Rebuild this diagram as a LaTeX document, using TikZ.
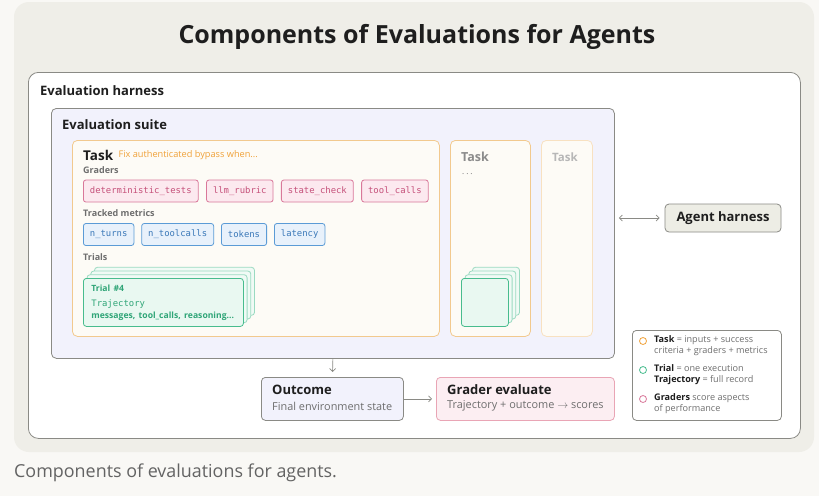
\documentclass[tikz,border=0pt]{standalone}
\usepackage{fontspec}
\setmainfont{Open Sans}
\setmonofont{DejaVu Sans Mono}
\usetikzlibrary{positioning,arrows.meta}
\definecolor{pagebg}{HTML}{F9F8F5}
\definecolor{panelbg}{HTML}{EFEEE8}
\definecolor{frame}{HTML}{8A8A85}
\definecolor{suitefill}{HTML}{F2F2FC}
\definecolor{taskfill}{HTML}{FDFBF6}
\definecolor{taskline}{HTML}{F2C98E}
\definecolor{taskorange}{HTML}{F0A23A}
\definecolor{graderfill}{HTML}{FCE9EF}
\definecolor{graderline}{HTML}{D9789A}
\definecolor{gradertext}{HTML}{C5507A}
\definecolor{metricfill}{HTML}{E8F1FB}
\definecolor{metricline}{HTML}{5B9BD6}
\definecolor{metrictext}{HTML}{3A78B8}
\definecolor{trialfill}{HTML}{E9F8F1}
\definecolor{trialline}{HTML}{48BC8E}
\definecolor{trialtext}{HTML}{2FA577}
\definecolor{agentfill}{HTML}{EDEDE5}
\definecolor{evalfill}{HTML}{FCEEF2}
\definecolor{evalline}{HTML}{E9A5B5}
\definecolor{inkgray}{HTML}{6E6E6E}
\definecolor{ink}{HTML}{1E1E1E}

\tikzset{
  container/.style={draw=frame, line width=0.8pt, anchor=north west, inner sep=0pt},
  heading/.style={anchor=west, inner sep=0pt, text=ink, font=\bfseries\fontsize{13}{15}\selectfont},
  sublabel/.style={anchor=west, inner sep=0pt, text=inkgray, font=\bfseries\fontsize{9}{10}\selectfont},
  chip/.style={draw, rounded corners=2.5pt, line width=0.8pt, minimum height=22pt,
    inner xsep=6.5pt, font=\ttfamily\fontsize{8.9}{10}\selectfont},
  grader/.style={chip, draw=graderline, fill=graderfill, text=gradertext},
  metric/.style={chip, draw=metricline, fill=metricfill, text=metrictext},
  trialcard/.style={draw=trialline, fill=trialfill, rounded corners=3pt, line width=0.8pt,
    anchor=north west, inner sep=0pt},
  trialback/.style={trialcard, draw=trialline!55, fill=trialfill!70},
  link/.style={draw=frame, line width=0.7pt, -{Straight Barb[length=3pt]}},
  legendtext/.style={anchor=north west, inner sep=0pt, align=left, text=inkgray,
    font=\fontsize{9.1}{11}\selectfont},
  dot/.style={circle, draw=#1, line width=0.8pt, minimum size=7pt, inner sep=0pt},
  note/.style={anchor=west, inner sep=0pt, text=inkgray, font=\fontsize{10.9}{12}\selectfont},
}

\begin{document}
\begin{tikzpicture}[x=1pt, y=-1pt]
\useasboundingbox[fill=pagebg] (0,0) rectangle (819,496);
\fill[panelbg, rounded corners=15pt] (14,2) rectangle (814,452);

\node[text=ink, font=\bfseries\fontsize{25}{28}\selectfont] (title) at (417,37)
  {Components of Evaluations for Agents};

% harness and suite
\node[container, fill=white, rounded corners=10pt, minimum width=772pt, minimum height=366pt]
  (harness) at (28,72) {};
\node[heading] (harnesslabel) at (40,91) {Evaluation harness};
\node[container, fill=suitefill, rounded corners=5pt, minimum width=563pt, minimum height=250pt]
  (suite) at (51,108) {};
\node[heading] (suitelabel) at (62,125) {Evaluation suite};

% first task
\node[container, draw=taskline, fill=taskfill, rounded corners=5pt, minimum width=367pt,
  minimum height=196pt] (task) at (72,140) {};
\node[heading, font=\bfseries\fontsize{13.5}{16}\selectfont] (tasklabel) at (83,155) {Task};
\node[anchor=west, inner sep=0pt, text=taskorange, font=\fontsize{9.2}{10}\selectfont]
  (taskname) at ([xshift=5pt]tasklabel.east) {Fix authenticated bypass when...};

\node[sublabel] (graderslabel) at (83,170) {Graders};
\node[grader, anchor=west] (g1) at (83,191) {deterministic\_tests};
\node[grader, right=7.5pt of g1] (g2) {llm\_rubric};
\node[grader, right=7.5pt of g2] (g3) {state\_check};
\node[grader, right=7.5pt of g3] (g4) {tool\_calls};

\node[sublabel] (metricslabel) at (83,213) {Tracked metrics};
\node[metric, anchor=west] (m1) at (83,234.5) {n\_turns};
\node[metric, right=7pt of m1] (m2) {n\_toolcalls};
\node[metric, right=7pt of m2] (m3) {tokens};
\node[metric, right=7pt of m3] (m4) {latency};

\node[sublabel] (trialslabel) at (83,257) {Trials};
\foreach \k in {3,2,1}
  \node[trialback, minimum width=160pt, minimum height=48pt] (trialback\k) at (83+3.7*\k,278-3.7*\k) {};
\node[trialcard, minimum height=48pt, text width=144pt, inner xsep=8pt, text=trialtext,
  align=left] (trial) at (83,278)
  {{\bfseries\fontsize{8.6}{10}\selectfont Trial \#4}\\[3pt]
   {\ttfamily\fontsize{8.9}{10}\selectfont Trajectory}\\[0pt]
   {\bfseries\fontsize{8.6}{10}\selectfont messages, tool\_calls, reasoning...}};

% other tasks
\node[container, draw=taskline, fill=taskfill, rounded corners=5pt, minimum width=80pt,
  minimum height=196pt] (tasktwo) at (450,140) {};
\node[heading, text=inkgray!80, font=\bfseries\fontsize{12.5}{14}\selectfont] (tasktwolabel) at (461,157) {Task};
\node[anchor=west, inner sep=0pt, text=inkgray, font=\fontsize{8}{10}\selectfont] (tasktwodots)
  at (462,174) {.\kern2pt.\kern2pt.};
\foreach \k in {3,2,1}
  \node[trialback, minimum width=47pt, minimum height=48pt] (minitrial\k) at (461+3.7*\k,278-3.7*\k) {};
\node[trialcard, minimum width=47pt, minimum height=48pt] (minitrial) at (461,278) {};

\node[container, draw=taskline!55, fill=taskfill, rounded corners=5pt, minimum width=51pt,
  minimum height=196pt] (taskthree) at (541,140) {};
\node[heading, text=inkgray!50, font=\bfseries\fontsize{11.5}{13}\selectfont] (taskthreelabel) at (552,157) {Task};

% agent harness
\node[draw=frame, fill=agentfill, rounded corners=4pt, line width=0.8pt, minimum width=116pt,
  minimum height=28pt, text=ink, font=\bfseries\fontsize{13}{15}\selectfont]
  (agent) at (723,218) {Agent harness};
\draw[draw=frame, line width=0.7pt, {Straight Barb[length=3pt]}-{Straight Barb[length=3pt]},
  shorten <=5pt, shorten >=4pt] (agent.west) -- (agent.west -| suite.east);

% outcome and grading
\node[container, fill=suitefill, rounded corners=4pt, minimum width=142pt, minimum height=43pt]
  (outcome) at (261,377) {};
\node[heading] (outcomelabel) at (272,390) {Outcome};
\node[note] (outcomenote) at (272,406) {Final environment state};
\node[container, draw=evalline, fill=evalfill, rounded corners=4pt, minimum width=178pt,
  minimum height=43pt] (grade) at (436,377) {};
\node[heading] (gradelabel) at (447,390) {Grader evaluate};
\node[note] (gradenote) at (447,406) {Trajectory + outcome $\rightarrow$ scores};

\draw[link, shorten >=5pt] (suite.south) -- (outcome.north);
\draw[link, shorten >=4pt] (outcome.east) -- (grade.west);

% legend
\node[container, fill=white, rounded corners=4pt, minimum width=149pt, minimum height=90pt]
  (legend) at (632,330) {};
\node[dot=taskorange] (dottask) at (643,341) {};
\node[legendtext] (legtask) at (654,335)
  {\textbf{\color{ink}Task} = inputs + success\\criteria + graders + metrics};
\node[dot=trialline] (dottrial) at (643,370) {};
\node[legendtext] (legtrial) at (654,364)
  {\textbf{\color{ink}Trial} = one execution\\\textbf{\color{ink}Trajectory} = full record};
\node[dot=graderline] (dotgrader) at (643,399) {};
\node[legendtext] (leggrader) at (654,393)
  {\textbf{\color{ink}Graders} score aspects\\of performance};

\node[anchor=west, inner sep=0pt, text=inkgray!90!black, font=\fontsize{17.9}{20}\selectfont]
  (caption) at (14,473) {Components of evaluations for agents.};
\end{tikzpicture}
\end{document}
